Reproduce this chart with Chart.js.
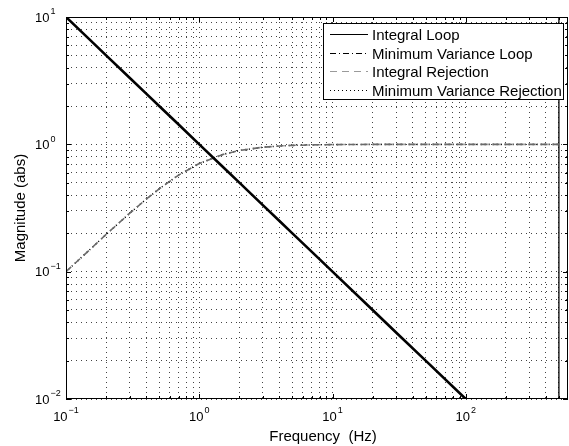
<!DOCTYPE html>
<html><head><meta charset="utf-8">
<script src="https://cdn.jsdelivr.net/npm/chart.js@4/dist/chart.umd.min.js"></script>
<style>html,body{margin:0;padding:0;background:#fff}canvas{display:block}</style>
</head><body>
<canvas id="c" width="569" height="446"></canvas>
<script>
// ---- data ----
const freq = [0.1, 0.15, 0.2, 0.3, 0.4, 0.5, 0.7, 1, 1.5, 2, 3, 4, 5, 7, 10, 20, 30, 50, 100, 200, 300, 500];
const integralLoop = [10, 6.67, 5, 3.33, 2.5, 2, 1.43, 1, 0.667, 0.5, 0.333, 0.25, 0.2, 0.143, 0.1, 0.05, 0.0333, 0.02, 0.01, 0.005, 0.00333, 0.002];
const minVarLoop = [10, 6.67, 5, 3.33, 2.5, 2, 1.43, 1, 0.667, 0.5, 0.333, 0.25, 0.2, 0.143, 0.1, 0.05, 0.0333, 0.02, 0.01, 0.005, 0.00333, 0.002];
const integralRejection = [0.1, 0.148, 0.196, 0.287, 0.371, 0.447, 0.573, 0.707, 0.832, 0.894, 0.949, 0.970, 0.981, 0.990, 0.995, 0.999, 0.999, 1, 1, 1, 1, 1];
const minVarRejection = [0.1, 0.148, 0.196, 0.287, 0.371, 0.447, 0.573, 0.707, 0.832, 0.894, 0.949, 0.970, 0.981, 0.990, 0.995, 0.999, 0.999, 1, 1, 1, 1, 1];
const nyquistFreq = [500, 500];
const nyquistMag = [0.01, 10];
const seriesNames = ['Integral Loop', 'Minimum Variance Loop', 'Integral Rejection', 'Minimum Variance Rejection'];
const xTickExps = [-1, 0, 1, 2];
const yTickExps = [-2, -1, 0, 1];
const xTitle = 'Frequency  (Hz)';
const yTitle = 'Magnitude (abs)';
const xMin = 0.1, xMax = 585, yMin = 0.01, yMax = 10;

const FONT = "'Liberation Sans', Arial, Helvetica, sans-serif";
const pts = (xs, ys) => xs.map((x, i) => ({x: x, y: ys[i]}));

function gridValues(exps, lo, hi) {
  const out = [];
  const all = exps.concat([exps[exps.length - 1] + 1]);
  all.forEach(e => {
    for (let k = 1; k <= 9; k++) {
      const v = +(k * Math.pow(10, e)).toPrecision(6);
      if (v >= lo * 0.9999 && v <= hi * 1.0001) out.push({value: v, major: k === 1});
    }
  });
  return out;
}

const datasets = [
  {label: seriesNames[0], data: pts(freq, integralLoop), borderColor: '#000', borderWidth: 2.6, borderDash: []},
  {label: seriesNames[1], data: pts(freq, minVarLoop), borderColor: '#000', borderWidth: 1, borderDash: [6, 3, 1, 3]},
  {label: seriesNames[2], data: pts(freq, integralRejection), borderColor: '#6a6a6a', borderWidth: 1.6, borderDash: [7, 5]},
  {label: seriesNames[3], data: pts(freq, minVarRejection), borderColor: '#000', borderWidth: 1.6, borderDash: [1, 3]},
  {label: '_nyquist', data: pts(nyquistFreq, nyquistMag), borderColor: '#000', borderWidth: 1.3, borderDash: []}
];
datasets.forEach(d => { d.pointRadius = 0; d.fill = false; d.tension = 0; d.backgroundColor = 'transparent'; });

function drawPow(ctx, exp, x, y, mode) {
  const base = '10', ex = exp < 0 ? '\u2212' + Math.abs(exp) : String(exp);
  ctx.font = '13px ' + FONT;
  const wb = ctx.measureText(base).width;
  ctx.font = '9px ' + FONT;
  const we = ctx.measureText(ex).width;
  let x0 = mode === 'center' ? x - (wb + we + 1) / 2 : x;
  ctx.textAlign = 'left';
  ctx.textBaseline = 'middle';
  ctx.font = '13px ' + FONT;
  ctx.fillText(base, x0, y);
  ctx.font = '9px ' + FONT;
  ctx.fillText(ex, x0 + wb + 1, y - 6);
}

const decor = {
  id: 'decor',
  afterDraw(chart) {
    const ctx = chart.ctx, a = chart.chartArea;
    const xs = chart.scales.x, ys = chart.scales.y;
    ctx.save();
    ctx.fillStyle = '#000';
    ctx.strokeStyle = '#000';
    ctx.lineWidth = 1;
    ctx.setLineDash([]);
    // box
    ctx.strokeRect(a.left + 0.5, a.top + 0.5, a.right - a.left - 1, a.bottom - a.top - 1);
    // tick marks on all four sides
    ctx.beginPath();
    xs.ticks.forEach(t => {
      const px = Math.round(xs.getPixelForValue(t.value)) + 0.5;
      const L = t.major ? 5 : 3;
      ctx.moveTo(px, a.bottom); ctx.lineTo(px, a.bottom - L);
      ctx.moveTo(px, a.top); ctx.lineTo(px, a.top + L);
    });
    ys.ticks.forEach(t => {
      const py = Math.round(ys.getPixelForValue(t.value)) + 0.5;
      const L = t.major ? 5 : 3;
      ctx.moveTo(a.left, py); ctx.lineTo(a.left + L, py);
      ctx.moveTo(a.right, py); ctx.lineTo(a.right - L, py);
    });
    ctx.stroke();
    // tick labels
    xTickExps.forEach(e => drawPow(ctx, e, xs.getPixelForValue(Math.pow(10, e)), 417, 'center'));
    yTickExps.forEach(e => drawPow(ctx, e, 35, ys.getPixelForValue(Math.pow(10, e)) + 1, 'left'));
    // axis titles
    ctx.font = '15px ' + FONT;
    ctx.textAlign = 'center';
    ctx.textBaseline = 'alphabetic';
    ctx.fillText(xTitle, 323, 441);
    ctx.save();
    ctx.translate(21, (a.top + a.bottom) / 2);
    ctx.rotate(-Math.PI / 2);
    ctx.textBaseline = 'middle';
    ctx.fillText(yTitle, 0, 0);
    ctx.restore();
    // legend
    const lx = 323, ly = 23, lw = 240, lh = 76;
    ctx.fillStyle = '#fff';
    ctx.fillRect(lx, ly, lw, lh);
    ctx.strokeStyle = '#000';
    ctx.lineWidth = 1;
    ctx.strokeRect(lx + 0.5, ly + 0.5, lw, lh);
    ctx.font = '15px ' + FONT;
    ctx.textAlign = 'left';
    ctx.textBaseline = 'middle';
    const legendColors = ['#000', '#000', '#9a9a9a', '#000'];
    for (let i = 0; i < 4; i++) {
      const d = chart.data.datasets[i];
      const yy = Math.round(ly + 11 + i * 18.7) + 0.5;
      ctx.strokeStyle = legendColors[i];
      ctx.lineWidth = 1;
      ctx.setLineDash(d.borderDash);
      ctx.beginPath(); ctx.moveTo(lx + 7, yy); ctx.lineTo(lx + 45, yy); ctx.stroke();
      ctx.setLineDash([]);
      ctx.fillStyle = '#000';
      ctx.fillText(d.label, lx + 49, yy + 1);
    }
    ctx.restore();
  }
};

new Chart(document.getElementById('c'), {
  type: 'line',
  data: {datasets: datasets},
  plugins: [decor],
  options: {
    responsive: false,
    animation: false,
    layout: {padding: {left: 0, right: 1, top: 17, bottom: 0}},
    plugins: {legend: {display: false}, tooltip: {enabled: false}},
    scales: {
      x: {
        type: 'logarithmic', min: xMin, max: xMax,
        afterFit: s => { s.height = 47; },
        afterBuildTicks: s => { s.ticks = gridValues(xTickExps, xMin, xMax); },
        ticks: {display: false},
        grid: {color: '#444', lineWidth: 1, drawTicks: false},
        border: {display: false, dash: [1, 4]}
      },
      y: {
        type: 'logarithmic', min: yMin, max: yMax,
        afterFit: s => { s.width = 66; },
        afterBuildTicks: s => { s.ticks = gridValues(yTickExps.slice(0, 3), yMin, yMax); },
        ticks: {display: false},
        grid: {color: '#444', lineWidth: 1, drawTicks: false},
        border: {display: false, dash: [1, 4]}
      }
    }
  }
});
</script>
</body></html>
